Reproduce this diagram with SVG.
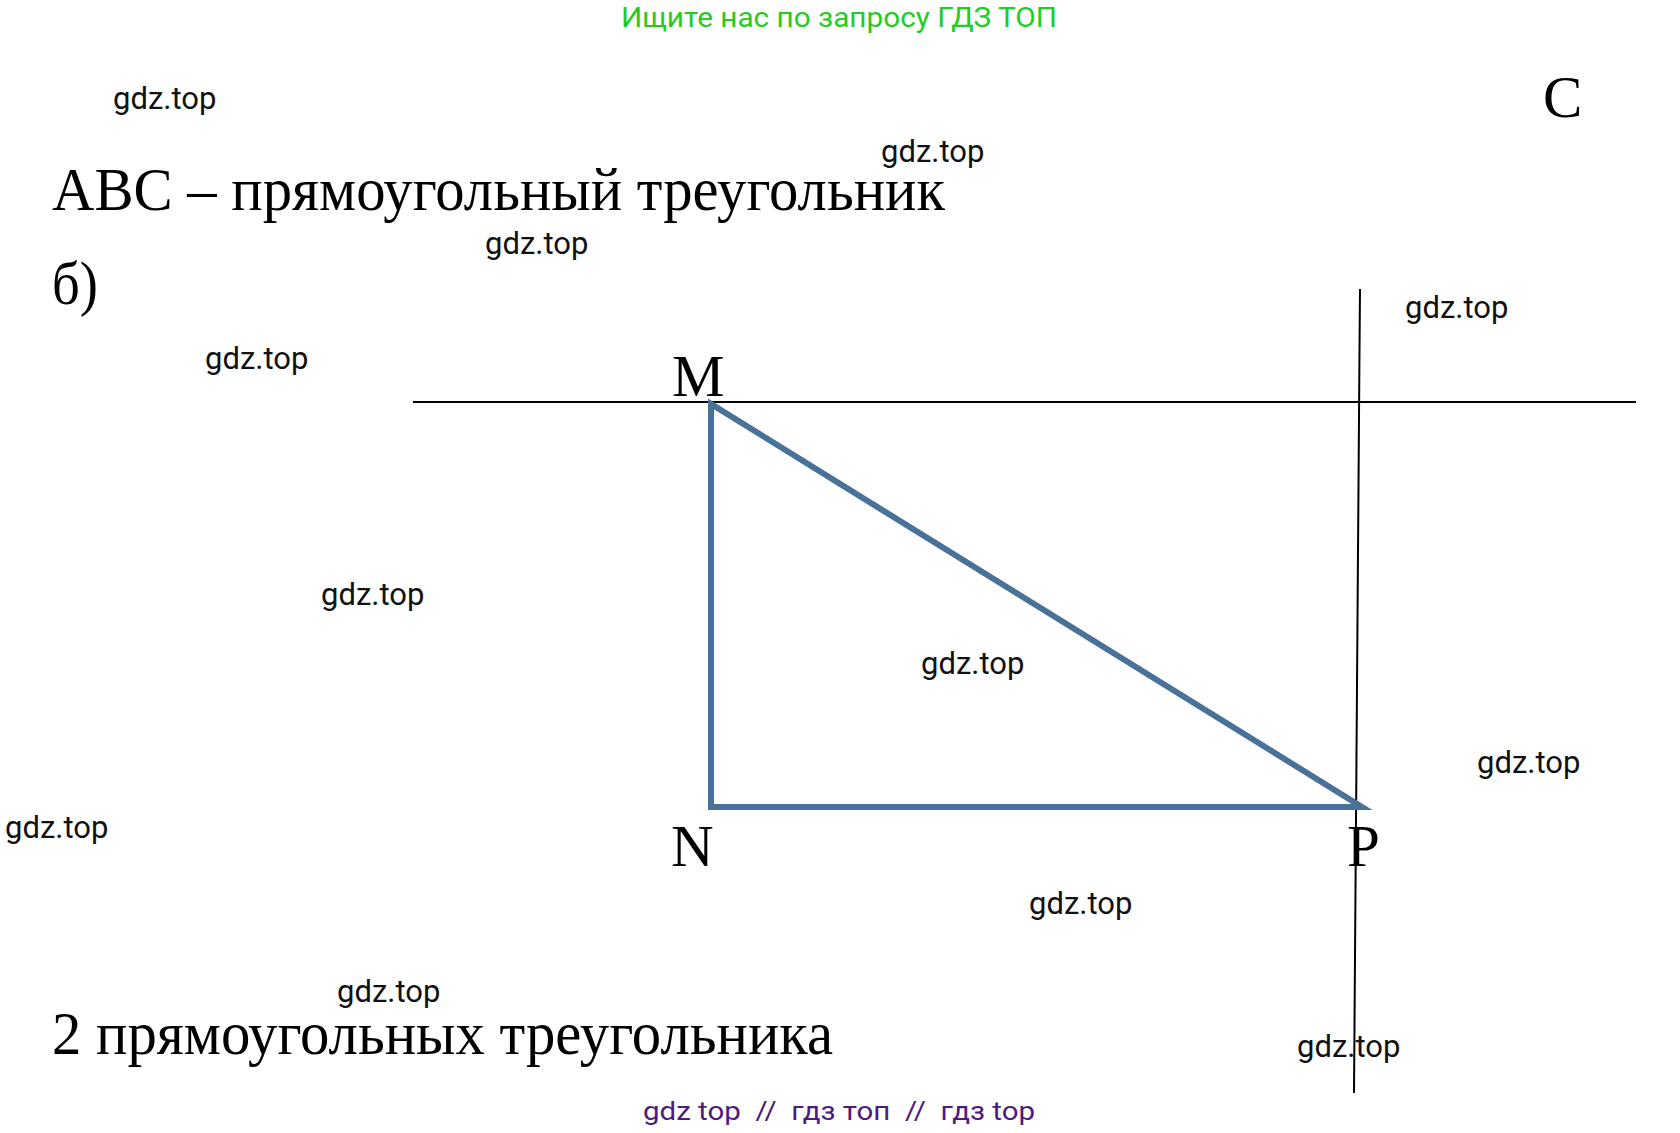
<svg xmlns="http://www.w3.org/2000/svg" width="1680" height="1133" viewBox="0 0 1680 1133">
<style>
.wm{font-family:Roboto,"Liberation Sans",sans-serif;font-size:31px;fill:#111}
.serif{font-family:"Liberation Serif","Times New Roman",serif;fill:#000}
.big{font-size:62px}
.lbl{font-size:59px}
.ln{stroke:#000;stroke-width:2;fill:none}
.tri{stroke:#4a7299;stroke-width:6;fill:none;stroke-linejoin:miter}
</style>
<rect width="1680" height="1133" fill="#fff"/>
<text x="839" y="27" text-anchor="middle" font-family="Roboto,'Liberation Sans',sans-serif" font-size="28" fill="#22cc22" textLength="436" lengthAdjust="spacingAndGlyphs">Ищите нас по запросу ГДЗ ТОП</text>
<g id="title">
<text class="serif big" x="52" y="210" textLength="893" lengthAdjust="spacingAndGlyphs">ABC – прямоугольный треугольник</text>
<text class="serif big" x="52" y="304" textLength="46" lengthAdjust="spacingAndGlyphs">б)</text>
<text class="serif big" x="52" y="1054" textLength="781" lengthAdjust="spacingAndGlyphs">2 прямоугольных треугольника</text>
</g>
<g id="connectors">
<line class="ln" x1="413" y1="402" x2="1636" y2="402"/>
<polyline class="ln" points="1360,289 1359.5,350 1354,1093"/>
</g>
<g id="triangle">
<polygon class="tri" points="711,404 711,807 1362,807"/>
</g>
<g id="node-M"><text class="serif lbl" x="672" y="396">M</text></g>
<g id="node-N"><text class="serif lbl" x="671" y="866">N</text></g>
<g id="node-P"><text class="serif lbl" x="1347" y="866">P</text></g>
<g id="node-C"><text class="serif lbl" x="1543" y="117">C</text></g>
<g id="watermarks">
<text class="wm" x="113" y="109">gdz.top</text>
<text class="wm" x="881" y="162">gdz.top</text>
<text class="wm" x="485" y="254">gdz.top</text>
<text class="wm" x="1405" y="318">gdz.top</text>
<text class="wm" x="205" y="369">gdz.top</text>
<text class="wm" x="321" y="605">gdz.top</text>
<text class="wm" x="921" y="674">gdz.top</text>
<text class="wm" x="1477" y="773">gdz.top</text>
<text class="wm" x="5" y="838">gdz.top</text>
<text class="wm" x="1029" y="914">gdz.top</text>
<text class="wm" x="337" y="1002">gdz.top</text>
<text class="wm" x="1297" y="1057">gdz.top</text>
</g>
<text x="839" y="1120" text-anchor="middle" font-family="Roboto,'Liberation Sans',sans-serif" font-size="26" fill="#4e1a80" textLength="392" lengthAdjust="spacingAndGlyphs" xml:space="preserve">gdz top  //  гдз топ  //  гдз top</text>
</svg>
